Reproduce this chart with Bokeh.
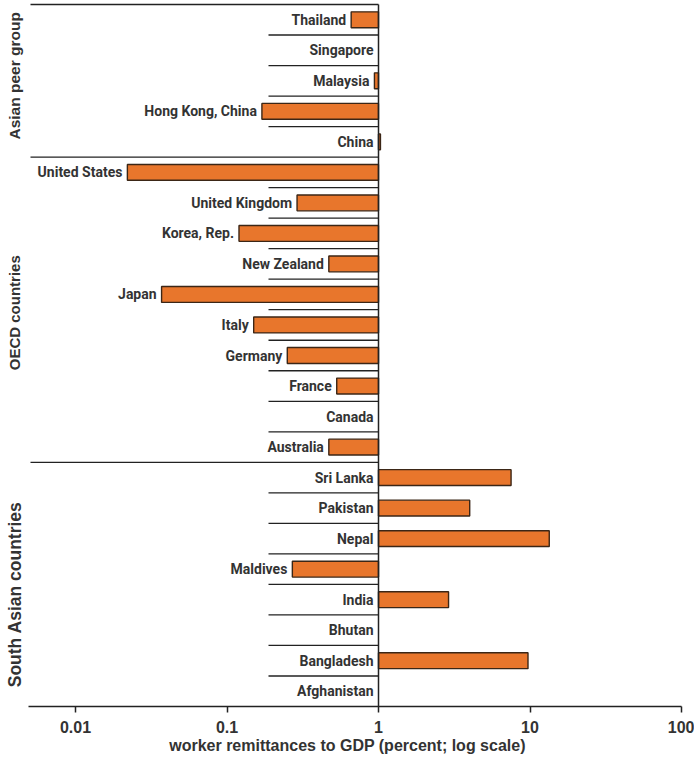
import math
from bokeh.plotting import figure
from bokeh.models import ColumnDataSource, Range1d, FixedTicker
from bokeh.core.properties import value
from bokeh.embed import file_html
from bokeh.resources import INLINE

# ---------------- data ----------------
group_names = ["Asian peer group", "OECD countries", "South Asian countries"]
asian_countries = ["Thailand", "Singapore", "Malaysia", "Hong Kong, China", "China"]
asian_values = [0.66, None, 0.94, 0.17, 1.03]
oecd_countries = ["United States", "United Kingdom", "Korea, Rep.", "New Zealand", "Japan",
                  "Italy", "Germany", "France", "Canada", "Australia"]
oecd_values = [0.022, 0.29, 0.12, 0.47, 0.037, 0.15, 0.25, 0.53, None, 0.47]
south_countries = ["Sri Lanka", "Pakistan", "Nepal", "Maldives", "India", "Bhutan",
                   "Bangladesh", "Afghanistan"]
south_values = [7.5, 4.0, 13.4, 0.27, 2.9, None, 9.7, None]
tick_values = [0.01, 0.1, 1, 10, 100]
tick_labels = ["0.01", "0.1", "1", "10", "100"]
x_label = "worker remittances to GDP (percent; log scale)"

# ---------------- layout constants ----------------
W, H = 694, 767
ONE_PX = 378              # canvas x of value 1
DECADE = 151.5            # px per decade
FRAME_BOTTOM = 706        # canvas y of the x axis
TOP_LINE = 4              # canvas y of the top rule


def px_to_val(px):
    return 10 ** ((px - ONE_PX) / DECADE)


X_LO, X_HI = px_to_val(0), px_to_val(W)

FONT_LABEL = "Roboto"
FONT_WIDE = "Liberation Sans"
TEXT_COL = "#333333"
LINE_COL = "#222222"
BAR_FILL = "#E8762C"
BAR_LINE = "#3b2616"

groups = [(group_names[0], asian_countries, asian_values),
          (group_names[1], oecd_countries, oecd_values),
          (group_names[2], south_countries, south_values)]

countries, values = [], []
for _, c, v in groups:
    countries += c
    values += v
n = len(countries)
ypos = [n - 1 - i for i in range(n)]

pitch = (FRAME_BOTTOM - TOP_LINE) / n
y_top = (n - 0.5) + TOP_LINE / pitch

p = figure(width=W, height=H, x_axis_type="log",
           x_range=Range1d(X_LO, X_HI), y_range=Range1d(-0.5, y_top),
           output_backend="svg", toolbar_location=None,
           min_border_left=0, min_border_right=0, min_border_top=0,
           min_border_bottom=H - FRAME_BOTTOM)
p.outline_line_color = None
p.grid.visible = False
p.yaxis.visible = False
p.background_fill_color = "white"
p.border_fill_color = "white"

# bars
bar_y = [y for y, v in zip(ypos, values) if v is not None]
bar_v = [v for v in values if v is not None]
p.hbar(y=bar_y, left=[1] * len(bar_v), right=bar_v, height=0.52,
       fill_color=BAR_FILL, line_color=BAR_LINE, line_width=1.4)

# separators
group_bounds = []
start = n
for _, c, _v in groups:
    group_bounds.append(start - 0.5)
    start -= len(c)
inner = [k + 0.5 for k in range(n - 1) if (k + 0.5) not in group_bounds]
p.segment(x0=[px_to_val(268)] * len(inner), x1=[1] * len(inner), y0=inner, y1=inner,
          line_color=LINE_COL, line_width=1.3)
p.segment(x0=[px_to_val(30)] * len(group_bounds), x1=[1] * len(group_bounds),
          y0=group_bounds, y1=group_bounds, line_color=LINE_COL, line_width=1.4)
# vertical line at 1
p.segment(x0=[1], x1=[1], y0=[-0.5], y1=[n - 0.5], line_color=LINE_COL, line_width=1.5)

# country labels
lab_x = [min(v, 1) if v is not None else 1 for v in values]
src = ColumnDataSource(dict(x=lab_x, y=ypos, t=countries))
p.text(x="x", y="y", text="t", source=src, x_offset=-5, text_align="right",
       text_baseline="middle", text_font=value(FONT_LABEL), text_font_style="bold",
       text_font_size="14px", text_color=TEXT_COL)

# group labels
gl_y, start = [], n
for _, c, _v in groups:
    gl_y.append(start - 0.5 - len(c) / 2)
    start -= len(c)
gl_size = ["15.5px", "15px", "17.5px"]
gl_off = [-5, 3, 10]
for name, gy, fs, off in zip(group_names, gl_y, gl_size, gl_off):
    p.text(x=[px_to_val(14)], y=[gy], text=[name], angle=math.pi / 2, y_offset=off,
           text_align="center", text_baseline="middle", text_font=value(FONT_WIDE),
           text_font_style="bold", text_font_size=fs, text_color=TEXT_COL)

# x axis
ax = p.xaxis[0]
ax.ticker = FixedTicker(ticks=tick_values)
ax.major_label_overrides = {t: l for t, l in zip(tick_values, tick_labels)}
ax.bounds = (px_to_val(28), 100)
ax.minor_tick_line_color = None
ax.major_tick_in = 0
ax.major_tick_out = 6
ax.axis_line_color = LINE_COL
ax.axis_line_width = 1.5
ax.major_tick_line_color = LINE_COL
ax.major_tick_line_width = 1.5
ax.major_label_standoff = 8
ax.major_label_text_font = FONT_WIDE
ax.major_label_text_font_style = "bold"
ax.major_label_text_font_size = "16px"
ax.major_label_text_color = TEXT_COL
ax.axis_label = x_label
ax.axis_label_standoff = 1
ax.axis_label_text_font = FONT_WIDE
ax.axis_label_text_font_style = "bold"
ax.axis_label_text_font_size = "16px"
ax.axis_label_text_color = TEXT_COL

open("out.html", "w").write(file_html(p, INLINE))
